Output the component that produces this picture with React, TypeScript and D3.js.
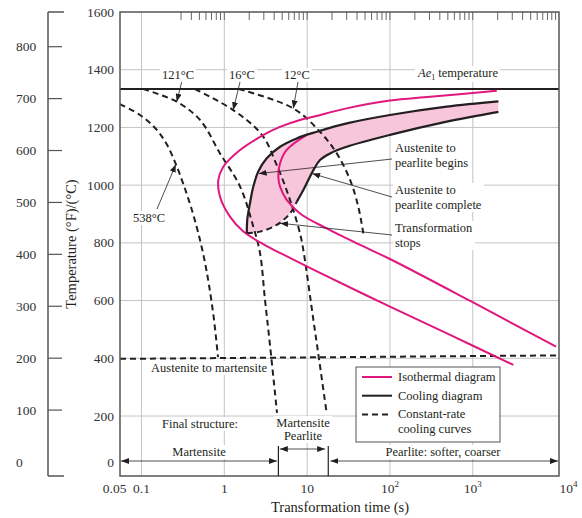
import React, { useRef, useEffect } from 'react';
import * as d3 from 'd3';

type Pt = [number, number]; // [time (s), temperature (°F)]

const TEMP_F_TICKS = [0, 200, 400, 600, 800, 1000, 1200, 1400, 1600];
const TEMP_C_TICKS = [0, 100, 200, 300, 400, 500, 600, 700, 800];
const GRID_F = [200, 400, 600, 800, 1000, 1200, 1400];
const GRID_T = [0.1, 1, 10, 100, 1000];
const TIME_TICKS = [0.05, 0.1, 1, 10, 100, 1000, 10000];
const TIME_BASE = ["0.05", "0.1", "1", "10", "10", "10", "10"];
const TIME_EXP = ["", "", "", "", "2", "3", "4"];
const TOP_TICKS = [
    0.3, 0.4, 0.5, 0.6, 0.7, 0.8, 0.9, 1,
    2, 3, 4, 5, 6, 7, 8, 9, 10,
    20, 30, 40, 50, 60, 70, 80, 90, 100,
    200, 300, 400, 500, 600, 700, 800, 900, 1000,
    2000, 3000, 4000, 5000, 6000, 7000, 8000, 9000, 10000
];

const AE1 = 1333;

// isothermal (TTT) curves
const ISO_START: Pt[] = [
    [1950, 1327], [305, 1306], [100, 1293], [30, 1266], [11.9, 1237], [8.2, 1226],
    [4.7, 1202], [3.25, 1180], [1.55, 1122], [0.973, 1064], [0.847, 1018], [0.887, 960],
    [1.17, 891], [1.7, 839], [3.25, 789], [6.21, 748], [14.3, 696], [100, 579],
    [532, 481], [3090, 377]
];
const ISO_END: Pt[] = [
    [9.89, 1174], [5.67, 1122], [4.71, 1076], [4.49, 1029], [4.71, 995], [5.67, 949],
    [8.2, 902], [17.2, 850], [43.6, 793], [100, 744], [972, 596], [10140, 440]
];

// continuous cooling curves
const COOL_START: Pt[] = [
    [1.87, 833], [1.89, 879], [2.04, 937], [2.24, 995], [2.57, 1047], [3.25, 1093],
    [4.71, 1133], [7.48, 1162], [13.1, 1185], [30.1, 1214], [100, 1243], [485, 1272], [2040, 1290]
];
const COOL_END: Pt[] = [
    [2040, 1254], [485, 1220], [100, 1174], [30.1, 1133], [18.9, 1110], [14.3, 1087],
    [11.9, 1052], [9.0, 983], [7.48, 942]
];
const COOL_STOP: Pt[] = [
    [1.87, 833], [2.7, 839], [4.29, 862], [6.21, 902], [7.48, 942]
];

// constant-rate cooling curves
const RATE_538: Pt[] = [
    [0.055, 1281], [0.096, 1243], [0.146, 1198], [0.198, 1146], [0.254, 1080],
    [0.317, 1007], [0.396, 924], [0.481, 838], [0.569, 748], [0.653, 654],
    [0.751, 533], [0.839, 404]
];
const RATE_121: Pt[] = [
    [0.105, 1333], [0.266, 1289], [0.509, 1226], [0.887, 1110], [1.55, 995],
    [2.24, 856], [2.7, 764], [3.1, 602], [3.56, 446], [4.33, 211]
];
const RATE_16: Pt[] = [
    [0.443, 1333], [1.28, 1260], [2.85, 1174], [4.29, 1070], [6.21, 949],
    [8.2, 833], [9.0, 775], [11.9, 533], [13.8, 405], [17.2, 211]
];
const RATE_12: Pt[] = [
    [1.5, 1333], [6.81, 1266], [14.3, 1185], [22.8, 1110], [33.0, 1018],
    [41.5, 925], [47.7, 833]
];
const MS_LINE: Pt[] = [[0.055, 398], [11000, 410]];

const MAGENTA = "#e0177f";
const PINK = "#f7c6da";
const INK = "#231f20";
const FONT = "'Liberation Serif', 'Times New Roman', serif";

const App: React.FC = () => {
    const svgRef = useRef<SVGSVGElement>(null);

    useEffect(() => {
        if (!svgRef.current) return;
        const svg = d3.select(svgRef.current);
        svg.selectAll("*").remove();

        const plot = { left: 120, right: 559, top: 12, bottom: 476 };

        const x = d3.scaleLog().domain([0.055, 11000]).range([plot.left, plot.right]);
        const yF = d3.scaleLinear().domain([0, 200, 1600]).range([462.5, 416, plot.top]);
        const yC = d3.scaleLinear().domain([0, 800]).range([462, 46.7]);

        const line = d3.line<Pt>()
            .x(d => x(d[0]))
            .y(d => yF(d[1]))
            .curve(d3.curveCatmullRom.alpha(0.5));

        const defs = svg.append("defs");
        defs.append("marker")
            .attr("id", "ah")
            .attr("markerUnits", "userSpaceOnUse")
            .attr("markerWidth", 8).attr("markerHeight", 6)
            .attr("refX", 8).attr("refY", 3)
            .attr("orient", "auto-start-reverse")
            .append("path").attr("d", "M0,0 L8,3 L0,6 Z").attr("fill", INK);

        const g = svg.append("g").style("font-family", FONT);

        // grid
        g.append("g").selectAll("line").data(GRID_F).join("line")
            .attr("x1", plot.left).attr("x2", plot.right)
            .attr("y1", d => yF(d)).attr("y2", d => yF(d))
            .attr("stroke", "#c4c4c4").attr("stroke-width", 1);
        g.append("g").selectAll("line").data(GRID_T).join("line")
            .attr("x1", d => x(d)).attr("x2", d => x(d))
            .attr("y1", plot.top).attr("y2", plot.bottom)
            .attr("stroke", "#c4c4c4").attr("stroke-width", 1);

        // top minor ticks
        g.append("g").selectAll("line").data(TOP_TICKS).join("line")
            .attr("x1", d => x(d)).attr("x2", d => x(d))
            .attr("y1", plot.top).attr("y2", plot.top + 8)
            .attr("stroke", "#666").attr("stroke-width", 1);

        // text helper with white background
        const label = (lines: string[], lx: number, ly: number, anchor = "start", size = 12.5, bg = true, lh = 14) => {
            const lg = g.append("g");
            const t = lg.append("text")
                .attr("x", lx).attr("y", ly)
                .attr("text-anchor", anchor)
                .attr("font-size", size)
                .attr("fill", INK);
            lines.forEach((s, i) => {
                t.append("tspan").attr("x", lx).attr("dy", i === 0 ? 0 : lh).text(s);
            });
            if (bg) {
                const b = (t.node() as SVGTextElement).getBBox();
                lg.insert("rect", "text")
                    .attr("x", b.x - 2).attr("y", b.y).attr("width", b.width + 4).attr("height", b.height)
                    .attr("fill", "white");
            }
            return lg;
        };

        // pink band of the cooling diagram
        const segA = line(COOL_START) || "";
        const segB = (line(COOL_END) || "").replace(/^M/, "L");
        const segC = (line([...COOL_STOP].reverse()) || "").replace(/^M/, "L");
        g.append("path").attr("d", segA + segB + segC + "Z").attr("fill", PINK);

        // Ae1
        g.append("line")
            .attr("x1", plot.left).attr("x2", plot.right)
            .attr("y1", yF(AE1)).attr("y2", yF(AE1))
            .attr("stroke", INK).attr("stroke-width", 2);

        // martensite start line
        g.append("path").attr("d", d3.line<Pt>().x(d => x(d[0])).y(d => yF(d[1]))(MS_LINE) || "")
            .attr("fill", "none").attr("stroke", INK).attr("stroke-width", 2).attr("stroke-dasharray", "6,4");

        // constant rate curves
        [RATE_538, RATE_121, RATE_16, RATE_12].forEach(c => {
            g.append("path").attr("d", line(c) || "")
                .attr("fill", "none").attr("stroke", INK).attr("stroke-width", 2).attr("stroke-dasharray", "6,4");
        });
        g.append("path").attr("d", line(COOL_STOP) || "")
            .attr("fill", "none").attr("stroke", INK).attr("stroke-width", 2).attr("stroke-dasharray", "6,4");

        // isothermal
        [ISO_START, ISO_END].forEach(c => {
            g.append("path").attr("d", line(c) || "")
                .attr("fill", "none").attr("stroke", MAGENTA).attr("stroke-width", 2);
        });

        // cooling diagram
        [COOL_START, COOL_END].forEach(c => {
            g.append("path").attr("d", line(c) || "")
                .attr("fill", "none").attr("stroke", INK).attr("stroke-width", 2.2);
        });

        // frame
        g.append("rect")
            .attr("x", plot.left).attr("y", plot.top)
            .attr("width", plot.right - plot.left).attr("height", plot.bottom - plot.top)
            .attr("fill", "none").attr("stroke", "#555").attr("stroke-width", 1.5);

        // °F tick labels
        g.append("g").selectAll("text").data(TEMP_F_TICKS).join("text")
            .attr("x", 114).attr("y", d => yF(d) + 4.5)
            .attr("text-anchor", "end").attr("font-size", 13.5).attr("fill", "#333")
            .text(d => d);

        // °C axis
        const cAxis = g.append("g").attr("stroke", "#555").attr("stroke-width", 1.5);
        cAxis.append("line").attr("x1", 48).attr("x2", 48).attr("y1", plot.top).attr("y2", plot.bottom);
        cAxis.append("line").attr("x1", 48).attr("x2", 64).attr("y1", plot.top).attr("y2", plot.top);
        cAxis.append("line").attr("x1", 48).attr("x2", 64).attr("y1", plot.bottom).attr("y2", plot.bottom);
        cAxis.selectAll("line.t").data(TEMP_C_TICKS.filter(d => d > 0)).join("line")
            .attr("class", "t")
            .attr("x1", 48).attr("x2", 62).attr("y1", d => yC(d)).attr("y2", d => yC(d))
            .attr("stroke-width", 1.2);
        g.append("g").selectAll("text").data(TEMP_C_TICKS).join("text")
            .attr("x", 16).attr("y", d => yC(d) + 4.5)
            .attr("font-size", 13.5).attr("fill", "#333")
            .text(d => d);

        // time tick labels
        const tl = g.append("g").selectAll("text").data(TIME_TICKS).join("text")
            .attr("x", (d, i) => i === TIME_TICKS.length - 1 ? x(d) + 4 : i === 0 ? x(d) - 2 : x(d))
            .attr("y", 493)
            .attr("text-anchor", (d, i) => i === TIME_TICKS.length - 1 ? "start" : "middle")
            .attr("font-size", 13.5).attr("fill", "#333");
        tl.append("tspan").text((d, i) => TIME_BASE[i]);
        tl.append("tspan").attr("dy", -6).attr("font-size", 9).text((d, i) => TIME_EXP[i]);

        // axis titles
        g.append("text").attr("x", 340).attr("y", 512).attr("text-anchor", "middle")
            .attr("font-size", 14.5).attr("fill", INK).text("Transformation time (s)");
        g.append("text").attr("transform", "translate(76,244) rotate(-90)").attr("text-anchor", "middle")
            .attr("font-size", 14.5).attr("fill", INK).text("Temperature (°F)/(°C)");

        // labels above Ae1
        label(["121°C"], 178, 79, "middle", 12.5);
        label(["16°C"], 242, 79, "middle", 12.5);
        label(["12°C"], 297, 79, "middle", 12.5);
        const ae = g.append("g");
        const aeText = ae.append("text").attr("x", 418).attr("y", 77).attr("font-size", 12.5).attr("fill", INK);
        aeText.append("tspan").attr("font-style", "italic").text("Ae");
        aeText.append("tspan").attr("font-size", 8).attr("dy", 3).text("1");
        aeText.append("tspan").attr("dy", -3).text(" temperature");
        const ab = (aeText.node() as SVGTextElement).getBBox();
        ae.insert("rect", "text").attr("x", ab.x - 2).attr("y", ab.y).attr("width", ab.width + 4)
            .attr("height", ab.height).attr("fill", "white");

        label(["538°C"], 149, 222, "middle", 12.5);
        label(["Austenite to", "pearlite begins"], 395, 152, "start", 12.5, true, 15);
        label(["Austenite to", "pearlite complete"], 395, 194, "start", 12.5, true, 15);
        label(["Transformation", "stops"], 395, 232, "start", 12.5, true, 15);
        label(["Austenite to martensite"], 209, 372, "middle");
        label(["Final structure:"], 200, 428, "middle");
        label(["Martensite"], 199, 456, "middle");
        label(["Martensite", "Pearlite"], 303, 427, "middle", 12.5, true, 13);
        label(["Pearlite: softer, coarser"], 443, 456, "middle");

        // leaders with arrowheads: [from px, to data point]
        const leaders: [number, number, Pt][] = [
            [181.7, 82, [0.266, 1289]],
            [240, 82, [1.28, 1260]],
            [298, 82, [6.81, 1266]],
            [157, 209, [0.26, 1072]],
            [392, 159, [2.6, 1040]],
            [392, 197, [11.5, 1040]],
            [392, 235, [4.71, 868]]
        ];
        leaders.forEach(([fx, fy, p]) => {
            g.append("line")
                .attr("x1", fx).attr("y1", fy).attr("x2", x(p[0])).attr("y2", yF(p[1]))
                .attr("stroke", INK).attr("stroke-width", 0.8).attr("marker-end", "url(#ah)");
        });

        // final structure arrows
        const arrows: [number, number, number][] = [
            [0.055, 4.45, 461],
            [4.55, 17.0, 449],
            [18.6, 11000, 461]
        ];
        arrows.forEach(([a, b, ay]) => {
            g.append("line")
                .attr("x1", x(a) + 1).attr("x2", x(b) - 1).attr("y1", ay).attr("y2", ay)
                .attr("stroke", INK).attr("stroke-width", 0.8)
                .attr("marker-start", "url(#ah)").attr("marker-end", "url(#ah)");
        });
        [4.5, 18.0].forEach(v => {
            g.append("line").attr("x1", x(v)).attr("x2", x(v)).attr("y1", 446).attr("y2", plot.bottom)
                .attr("stroke", INK).attr("stroke-width", 1.2);
        });

        // legend
        const lg = g.append("g").attr("transform", "translate(356,367)");
        lg.append("rect").attr("width", 144).attr("height", 75)
            .attr("fill", "white").attr("stroke", "#555").attr("stroke-width", 1);
        const items = [
            { text: ["Isothermal diagram"], color: MAGENTA, dash: "" },
            { text: ["Cooling diagram"], color: INK, dash: "" },
            { text: ["Constant-rate", "cooling curves"], color: INK, dash: "6,4" }
        ];
        items.forEach((it, i) => {
            const ly = 10 + i * 18.7;
            lg.append("line").attr("x1", 6).attr("x2", 36).attr("y1", ly).attr("y2", ly)
                .attr("stroke", it.color).attr("stroke-width", 2)
                .attr("stroke-dasharray", it.dash || null);
            const t = lg.append("text").attr("x", 42).attr("y", ly + 4).attr("font-size", 12.5).attr("fill", INK);
            it.text.forEach((s, j) => t.append("tspan").attr("x", 42).attr("dy", j === 0 ? 0 : 15).text(s));
        });
    }, []);

    return (
        <svg
            ref={svgRef}
            width={582}
            height={518}
            style={{ position: 'absolute', left: 0, top: 0, background: 'white' }}
        />
    );
};

export default App;
